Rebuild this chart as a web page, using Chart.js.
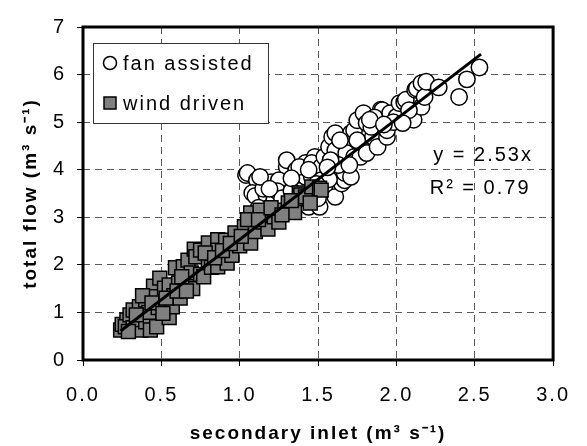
<!DOCTYPE html>
<html>
<head>
<meta charset="utf-8">
<script src="https://cdn.jsdelivr.net/npm/chart.js@4.4.1/dist/chart.umd.min.js"></script>
<style>
  html,body{margin:0;padding:0;background:#fff;}
  canvas{display:block;}
</style>
</head>
<body>
<canvas id="flow" width="587" height="446"></canvas>
<script>
// secondary inlet vs total flow as [x, y]

const seriesLabels = ['fan assisted', 'wind driven'];

const fanAssisted = [
  [1.04,3.89],[1.05,3.93],[1.11,3.78],[1.08,3.51],[1.10,3.45],[1.17,3.30],[1.20,3.74],[1.17,3.47],
  [1.22,3.36],[1.28,3.72],[1.30,4.06],[1.30,4.20],[1.25,3.78],[1.36,3.89],[1.36,3.99],[1.40,3.99],
  [1.42,3.85],[1.42,4.14],[1.46,3.85],[1.48,4.27],[1.44,3.22],[1.51,3.22],[1.38,4.06],[1.46,4.14],
  [1.51,3.99],[1.52,4.06],[1.52,3.78],[1.54,4.27],[1.54,3.64],[1.57,4.48],[1.59,4.69],[1.61,4.41],
  [1.61,4.77],[1.61,3.93],[1.61,3.43],[1.65,3.71],[1.67,4.56],[1.67,3.78],[1.67,3.93],[1.68,4.35],
  [1.71,3.85],[1.71,4.77],[1.73,4.83],[1.73,4.27],[1.75,5.04],[1.77,4.56],[1.77,4.27],[1.79,5.19],
  [1.81,4.98],[1.81,4.35],[1.85,4.69],[1.88,4.48],[1.90,5.26],[1.91,5.25],[1.94,4.69],[1.94,4.83],
  [1.96,5.19],[2.00,5.11],[2.02,5.40],[2.05,5.42],[2.06,5.47],[2.10,5.08],[2.11,5.05],[2.12,5.68],
  [2.13,5.71],[2.16,5.32],[2.16,5.82],[2.18,5.53],[2.19,5.85],[2.27,5.73],[2.40,5.53],[2.45,5.90],
  [2.53,6.15],[1.15,3.60],[1.24,3.55],[1.27,3.40],[1.33,3.55],[1.35,3.30],[1.40,3.45],[1.47,3.55],
  [1.57,3.80],[1.63,4.10],[1.70,4.10],[1.84,4.90],[1.86,5.10],[1.98,5.00],[2.08,5.25],[1.50,3.40],
  [2.04,4.98],[1.13,3.85],[1.19,3.60],[1.33,3.82],[1.44,4.00],[1.58,4.20],[1.64,4.62],[1.75,4.62],
  [1.83,5.05],[1.92,4.95],[1.56,4.05],[1.49,3.70],[1.12,3.20]
];

const windDriven = [
  [0.24,0.63],[0.25,0.75],[0.28,0.84],[0.27,0.70],[0.30,0.95],[0.32,1.05],[0.32,0.68],[0.36,1.12],
  [0.37,0.63],[0.35,0.85],[0.40,0.80],[0.43,0.63],[0.40,1.26],[0.45,1.55],[0.42,1.00],[0.46,1.33],
  [0.47,0.70],[0.48,1.10],[0.49,1.72],[0.52,1.51],[0.55,0.89],[0.55,1.58],[0.57,1.12],[0.58,1.35],
  [0.59,1.94],[0.61,1.62],[0.62,1.30],[0.64,1.96],[0.67,1.68],[0.67,2.10],[0.69,1.83],[0.70,1.50],
  [0.71,2.33],[0.72,2.17],[0.75,2.31],[0.75,1.80],[0.77,1.75],[0.80,2.46],[0.80,2.10],[0.82,1.95],
  [0.86,2.53],[0.86,2.31],[0.86,1.96],[0.91,2.52],[0.92,2.04],[0.95,2.20],[0.97,2.67],[1.00,2.40],
  [1.03,2.80],[1.07,3.09],[1.07,2.46],[1.10,2.70],[1.13,3.15],[1.15,2.90],[1.18,2.75],[1.22,3.01],
  [1.25,2.90],[1.28,3.15],[1.31,3.30],[1.35,3.10],[1.38,3.51],[1.39,3.47],[1.42,3.43],[1.46,3.64],
  [1.51,3.61],[1.52,3.57],[1.45,3.30],[0.29,0.60],[0.34,0.95],[0.38,1.35],[0.44,1.20],[0.51,0.98],
  [0.53,1.30],[0.60,1.45],[0.63,1.75],[0.66,1.45],[0.78,2.25],[0.84,2.15],[0.89,2.30],[0.94,2.45],
  [1.01,2.60],[1.05,2.95],[1.12,2.95],[1.20,3.20],[1.27,3.05],[1.33,3.35]
];

// trend line y = 2.53x, ends as drawn
const fitLine = [[0.24,0.61],[2.54,6.43]];
const fitText = ['y = 2.53x', 'R² = 0.79'];

const xTicks = [0, 0.5, 1, 1.5, 2, 2.5, 3];
const xTickLabels = ['0.0','0.5','1.0','1.5','2.0','2.5','3.0'];
const yTicks = [0, 1, 2, 3, 4, 5, 6, 7];
const yTickLabels = ['0','1','2','3','4','5','6','7'];
const xTitle = 'secondary inlet (m³ s⁻¹)';
const yTitle = 'total flow (m³ s⁻¹)';

const FONT = "'Liberation Sans', Arial, sans-serif";
const SPACING = '2px';

function toPts(arr){ return arr.map(p => ({ x:p[0], y:p[1] })); }

// the reference text is set wide, so space the letters out a little
const wideText = {
  id:'wideText',
  beforeUpdate(chart){ chart.ctx.letterSpacing = SPACING; },
  beforeDraw(chart){ chart.ctx.letterSpacing = SPACING; }
};

// frame, legend box and the fit equation
const extras = {
  id:'extras',
  afterDraw(chart){
    const ctx = chart.ctx;
    const a = chart.chartArea;
    const ds = chart.data.datasets;
    ctx.save();
    ctx.letterSpacing = SPACING;

    ctx.lineWidth = 3;
    ctx.strokeStyle = '#000';
    ctx.strokeRect(a.left, a.top, a.right - a.left, a.bottom - a.top);

    // legend
    const lx = a.left + 10, ly = a.top + 16, lw = 175, lh = 80;
    ctx.fillStyle = '#fff';
    ctx.fillRect(lx, ly, lw, lh);
    ctx.lineWidth = 1;
    ctx.strokeStyle = '#333';
    ctx.strokeRect(lx + 0.5, ly + 0.5, lw, lh);

    ctx.lineWidth = 1.5;
    ctx.strokeStyle = '#000';
    ctx.beginPath();
    ctx.arc(lx + 17, ly + 20, 6.5, 0, Math.PI * 2);
    ctx.fillStyle = ds[0].backgroundColor;
    ctx.fill();
    ctx.stroke();
    ctx.fillStyle = ds[1].backgroundColor;
    ctx.fillRect(lx + 11, ly + 54, 12, 12);
    ctx.strokeRect(lx + 11, ly + 54, 12, 12);

    ctx.fillStyle = '#000';
    ctx.font = '20px ' + FONT;
    ctx.textAlign = 'left';
    ctx.textBaseline = 'middle';
    ctx.fillText(ds[0].label, lx + 30, ly + 21);
    ctx.fillText(ds[1].label, lx + 30, ly + 61);

    // equation
    ctx.textAlign = 'center';
    ctx.fillText(fitText[0], a.right - 70, a.top + 128);
    ctx.fillText(fitText[1], a.right - 73, a.top + 161);
    ctx.restore();
  }
};

const gridOpts = {
  color:'#5a5a5a',
  lineWidth:1,
  drawTicks:true,
  tickLength:6,
  tickColor:'#000',
  tickBorderDash:[]
};

new Chart(document.getElementById('flow'), {
  type:'scatter',
  data:{
    datasets:[
      { label:seriesLabels[0], data:toPts(fanAssisted), pointStyle:'circle', pointRadius:8.2, pointHoverRadius:8.2,
        backgroundColor:'#fff', borderColor:'#000', borderWidth:1.5, order:2 },
      { label:seriesLabels[1], data:toPts(windDriven), pointStyle:'rect', pointRadius:9.8, pointHoverRadius:9.8,
        backgroundColor:'#808080', borderColor:'#000', borderWidth:1.5, order:1 },
      { label:'fit', data:toPts(fitLine), showLine:true, pointRadius:0, pointHoverRadius:0,
        borderColor:'#000', borderWidth:3, order:0 }
    ]
  },
  options:{
    responsive:false,
    animation:false,
    events:[],
    layout:{ padding:{ top:27, right:18, left:0, bottom:0 } },
    plugins:{ legend:{ display:false }, tooltip:{ enabled:false } },
    scales:{
      x:{
        type:'linear', min:0, max:3,
        afterBuildTicks(s){ s.ticks = xTicks.map(v => ({ value:v })); },
        afterFit(s){ s.height = 86; },
        ticks:{ color:'#000', padding:17, font:{ family:FONT, size:20 },
          callback:(v) => xTickLabels[xTicks.indexOf(v)] },
        grid:gridOpts,
        border:{ display:false, dash:[7,5] },
        title:{ display:true, text:xTitle, color:'#000', padding:{ top:0, bottom:1 },
          font:{ family:FONT, size:19, weight:'bold' } }
      },
      y:{
        type:'linear', min:0, max:7,
        afterBuildTicks(s){ s.ticks = yTicks.map(v => ({ value:v })); },
        afterFit(s){ s.width = 83; },
        ticks:{ color:'#000', padding:11, font:{ family:FONT, size:20 },
          callback:(v) => yTickLabels[yTicks.indexOf(v)] },
        grid:gridOpts,
        border:{ display:false, dash:[7,5] },
        title:{ display:true, text:yTitle, color:'#000', padding:{ top:19, bottom:0 },
          font:{ family:FONT, size:19, weight:'bold' } }
      }
    }
  },
  plugins:[wideText, extras]
});
</script>
</body>
</html>
